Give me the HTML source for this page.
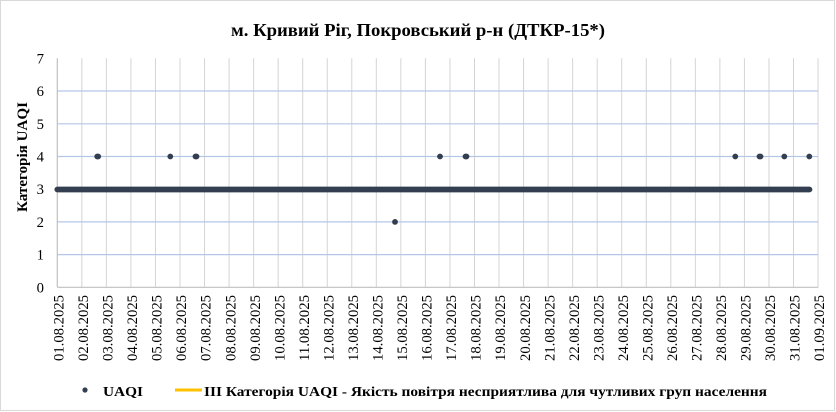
<!DOCTYPE html>
<html>
<head>
<meta charset="utf-8">
<style>
html,body{margin:0;padding:0;background:#fff;}
svg{display:block;}
text{font-family:"Liberation Serif","Noto Serif CJK SC",serif;fill:#000;}
</style>
</head>
<body>
<svg width="836" height="412" viewBox="0 0 836 412" xmlns="http://www.w3.org/2000/svg">
<rect x="0.5" y="0.5" width="834" height="410" fill="#fff" stroke="#d9d9d9" stroke-width="1"/>
<text x="418" y="36" font-size="18" font-weight="bold" text-anchor="middle" textLength="374" lengthAdjust="spacingAndGlyphs">м. Кривий Ріг, Покровський р-н (ДТКР-15*)</text>
<g id="vgrid" stroke="#d4d4d4" stroke-width="1"></g>
<g stroke="#b4c7e7" stroke-width="1.2">
<line x1="57.3" x2="818" y1="254.6" y2="254.6"/>
<line x1="57.3" x2="818" y1="221.9" y2="221.9"/>
<line x1="57.3" x2="818" y1="156.5" y2="156.5"/>
<line x1="57.3" x2="818" y1="123.8" y2="123.8"/>
<line x1="57.3" x2="818" y1="91.0" y2="91.0"/>
</g>
<line x1="57.3" y1="58.3" x2="57.3" y2="287.3" stroke="#bfbfbf" stroke-width="1.2"/>
<line x1="57.3" y1="287.3" x2="818.3" y2="287.3" stroke="#bfbfbf" stroke-width="1.2"/>
<g font-size="14.7" text-anchor="end">
<text x="44" y="292.3">0</text>
<text x="44" y="259.6">1</text>
<text x="44" y="226.9">2</text>
<text x="44" y="194.2">3</text>
<text x="44" y="161.5">4</text>
<text x="44" y="128.8">5</text>
<text x="44" y="96.0">6</text>
<text x="44" y="63.3">7</text>
</g>
<text transform="translate(27,157) rotate(-90)" font-size="14.5" font-weight="bold" text-anchor="middle" textLength="110" lengthAdjust="spacingAndGlyphs">Категорія UAQI</text>
<g id="xlabels" font-size="14.7" text-anchor="end"></g>
<line x1="57.3" y1="189.5" x2="809.5" y2="189.5" stroke="#333f50" stroke-width="5.7" stroke-linecap="round"/>
<g fill="#333f50">
<circle cx="97.2" cy="156.5" r="2.9"/>
<circle cx="98.2" cy="156.5" r="2.9"/>
<circle cx="170.3" cy="156.5" r="2.9"/>
<circle cx="195.5" cy="156.5" r="2.9"/>
<circle cx="196.5" cy="156.5" r="2.9"/>
<circle cx="440" cy="156.5" r="2.9"/>
<circle cx="465.5" cy="156.5" r="2.9"/>
<circle cx="466.5" cy="156.5" r="2.9"/>
<circle cx="735.3" cy="156.5" r="2.9"/>
<circle cx="759.5" cy="156.5" r="2.9"/>
<circle cx="760.5" cy="156.5" r="2.9"/>
<circle cx="784.3" cy="156.5" r="2.9"/>
<circle cx="809.3" cy="156.5" r="2.9"/>
<circle cx="395" cy="221.9" r="2.9"/>
</g>
<circle cx="85" cy="390" r="2.6" fill="#333f50"/>
<text x="103" y="396" font-size="13.5" font-weight="bold" textLength="40" lengthAdjust="spacingAndGlyphs">UAQI</text>
<line x1="175" y1="390" x2="202" y2="390" stroke="#ffc000" stroke-width="3"/>
<text x="204" y="396" font-size="13.5" font-weight="bold" textLength="563" lengthAdjust="spacingAndGlyphs">III Категорія UAQI - Якість повітря несприятлива для чутливих груп населення</text>
<script>
(function(){
var ns="http://www.w3.org/2000/svg";
var vg=document.getElementById("vgrid");
var xl=document.getElementById("xlabels");
for(var i=0;i<=31;i++){
  var x=57.3+i*24.54;
  if(i>0){
    var l=document.createElementNS(ns,"line");
    l.setAttribute("x1",x);l.setAttribute("x2",x);
    l.setAttribute("y1",58.3);l.setAttribute("y2",287.3);
    vg.appendChild(l);
  }
  var d,m;
  if(i<31){d=i+1;m="08";}else{d=1;m="09";}
  var s=(d<10?"0"+d:""+d)+"."+m+".2025";
  var t=document.createElementNS(ns,"text");
  var bx=x+6.2;
  t.setAttribute("transform","translate("+bx+",295) rotate(-90)");
  t.setAttribute("textLength","66");
  t.setAttribute("lengthAdjust","spacingAndGlyphs");
  t.textContent=s;
  xl.appendChild(t);
}
})();
</script>
</svg>
</body>
</html>
